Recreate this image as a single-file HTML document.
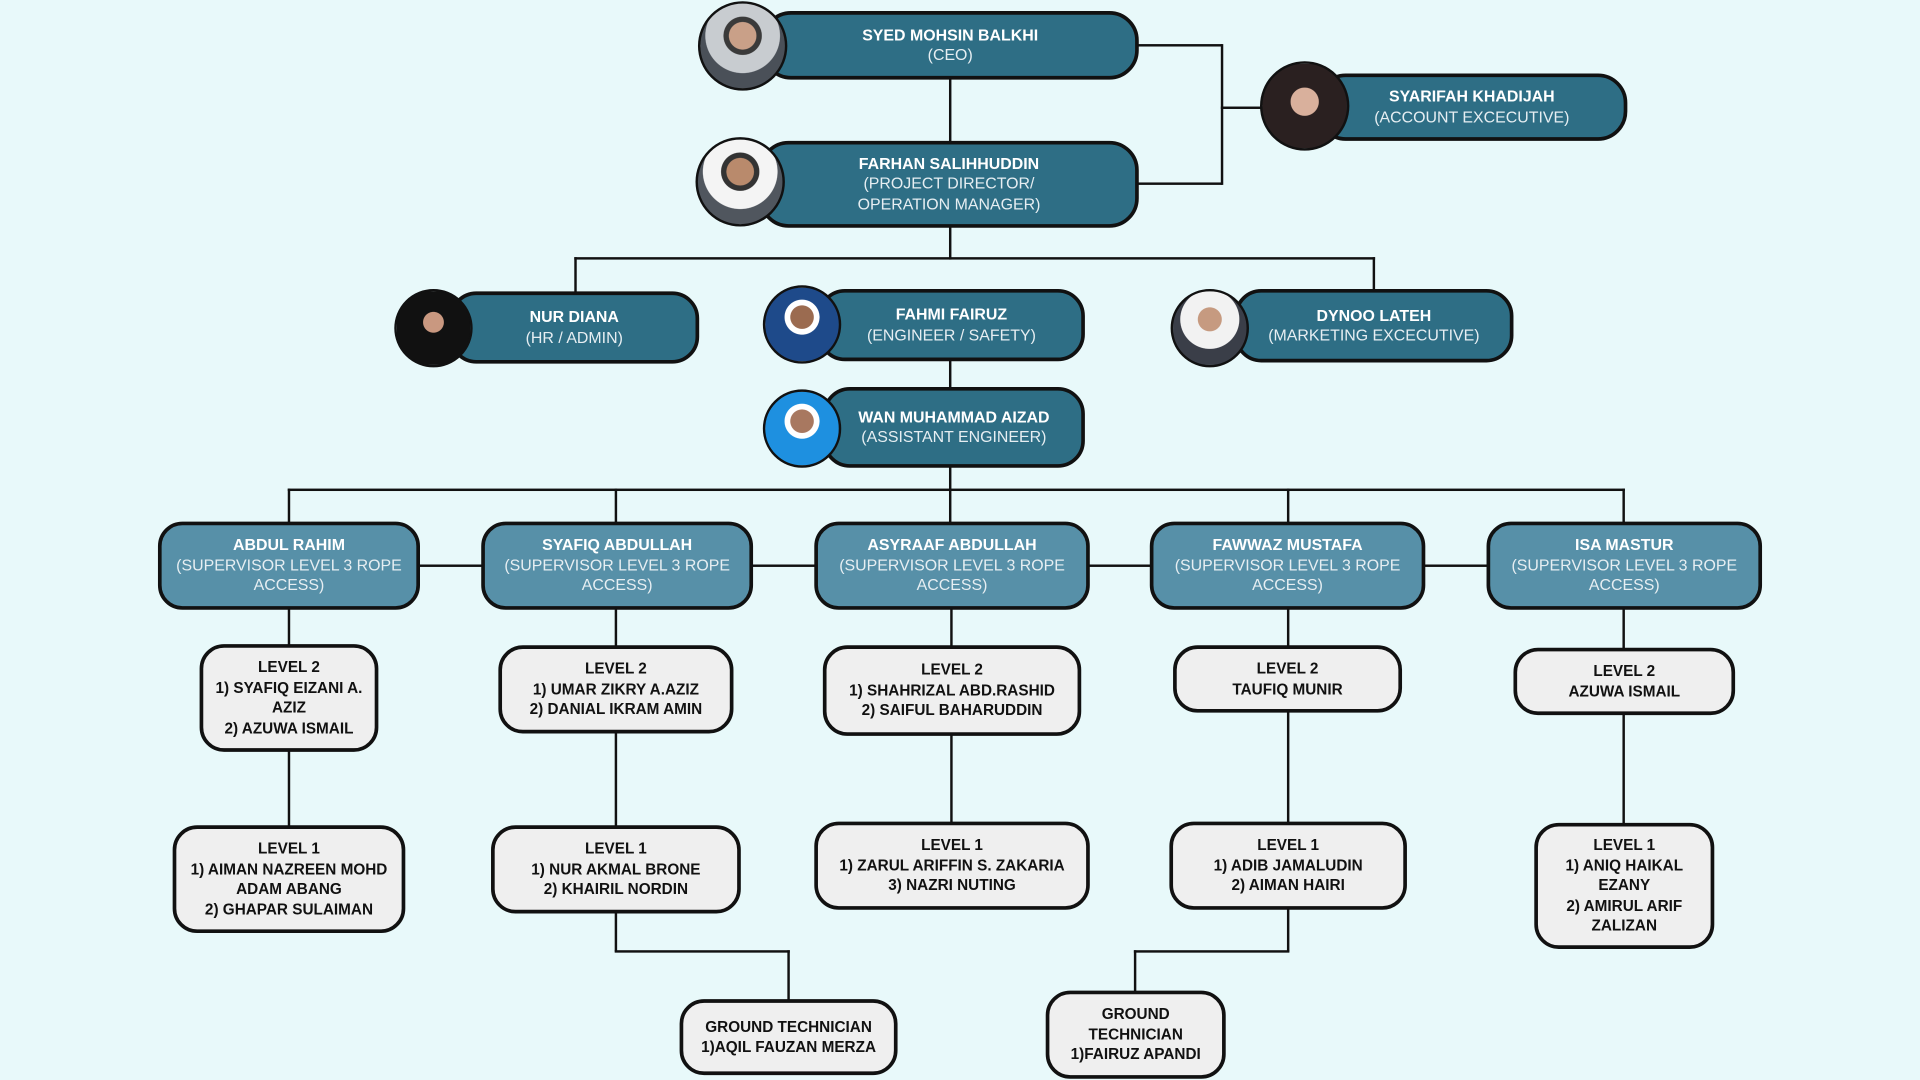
<!DOCTYPE html>
<html><head><meta charset="utf-8"><style>
html,body{margin:0;padding:0;background:#e8f9fa;overflow:hidden}
#s{position:absolute;left:0;top:0;width:1568px;height:882px;transform:scale(1.22449);transform-origin:0 0;font-family:"Liberation Sans",sans-serif}
.b{position:absolute;box-sizing:border-box;border:3px solid #111;border-radius:20px;display:flex;flex-direction:column;justify-content:center;align-items:center;text-align:center;font-size:13px;line-height:16.5px}
.d{background:#2e6e85;color:#fff}
.s{background:#5790a8;color:#fff}
.l{background:#efefef;color:#111;font-weight:bold;font-size:12.5px}
.d b,.s b{font-weight:bold}
.d span,.s span{color:#e6eef2;font-weight:normal}
.p{position:absolute;box-sizing:border-box;border:2px solid #111;border-radius:50%;background:radial-gradient(circle at 50% 38%,#c9a088 0 20%,#3a3a3a 21% 28%,#c8ccd0 29% 55%,#4a5058 56%)}
.ln{position:absolute;background:#111}
</style></head><body><div id="s">
<!-- lines -->
<div class="ln" style="left:775px;top:60px;width:2px;height:58px"></div>
<div class="ln" style="left:928px;top:36px;width:70px;height:2px"></div>
<div class="ln" style="left:997px;top:36px;width:2px;height:115px"></div>
<div class="ln" style="left:928px;top:149px;width:70px;height:2px"></div>
<div class="ln" style="left:997px;top:87px;width:35px;height:2px"></div>
<div class="ln" style="left:775px;top:184px;width:2px;height:28px"></div>
<div class="ln" style="left:469px;top:210px;width:654px;height:2px"></div>
<div class="ln" style="left:469px;top:210px;width:2px;height:30px"></div>
<div class="ln" style="left:1121px;top:210px;width:2px;height:28px"></div>
<div class="ln" style="left:775px;top:292px;width:2px;height:26px"></div>
<div class="ln" style="left:775px;top:379px;width:2px;height:50px"></div>
<div class="ln" style="left:235px;top:399px;width:1092px;height:2px"></div>
<div class="ln" style="left:235px;top:399px;width:2px;height:30px"></div>
<div class="ln" style="left:502px;top:399px;width:2px;height:30px"></div>
<div class="ln" style="left:1051px;top:399px;width:2px;height:30px"></div>
<div class="ln" style="left:1325px;top:399px;width:2px;height:30px"></div>
<div class="ln" style="left:340px;top:461px;width:1000px;height:2px"></div>
<div class="ln" style="left:235px;top:495px;width:2px;height:180px"></div>
<div class="ln" style="left:502px;top:495px;width:2px;height:282px"></div>
<div class="ln" style="left:776px;top:495px;width:2px;height:178px"></div>
<div class="ln" style="left:1051px;top:495px;width:2px;height:282px"></div>
<div class="ln" style="left:1325px;top:495px;width:2px;height:180px"></div>
<div class="ln" style="left:502px;top:776px;width:143px;height:2px"></div>
<div class="ln" style="left:643px;top:776px;width:2px;height:42px"></div>
<div class="ln" style="left:926px;top:776px;width:127px;height:2px"></div>
<div class="ln" style="left:926px;top:776px;width:2px;height:36px"></div>
<!-- top boxes -->
<div class="b d" style="left:622px;top:9px;width:308px;height:56px;border-radius:24px"><b>SYED MOHSIN BALKHI</b><span>(CEO)</span></div>
<div class="p" style="left:570px;top:1px;width:73px;height:73px"></div>
<div class="b d" style="left:620px;top:115px;width:310px;height:71px;border-radius:24px"><b>FARHAN SALIHHUDDIN</b><span>(PROJECT DIRECTOR/</span><span>OPERATION MANAGER)</span></div>
<div class="p" style="left:568px;top:112px;width:73px;height:73px;background:radial-gradient(circle at 50% 38%,#b98a6c 0 20%,#333 21% 28%,#f4f4f4 29% 55%,#50565e 56%)"></div>
<div class="b d" style="left:1075px;top:60px;width:254px;height:55px;border-radius:24px"><b>SYARIFAH KHADIJAH</b><span>(ACCOUNT EXCECUTIVE)</span></div>
<div class="p" style="left:1029px;top:50px;width:73px;height:73px;background:radial-gradient(circle at 50% 45%,#d9b09c 0 22%,#2a2020 23%)"></div>
<div class="b d" style="left:367px;top:238px;width:204px;height:59px;border-radius:22px"><b>NUR DIANA</b><span>(HR / ADMIN)</span></div>
<div class="p" style="left:322px;top:236px;width:64px;height:64px;background:radial-gradient(circle at 50% 42%,#c99880 0 18%,#111 19%)"></div>
<div class="b d" style="left:668px;top:236px;width:218px;height:59px;border-radius:22px"><b>FAHMI FAIRUZ</b><span>(ENGINEER / SAFETY)</span></div>
<div class="p" style="left:623px;top:233px;width:64px;height:64px;background:radial-gradient(circle at 50% 40%,#9b6b50 0 20%,#fff 21% 30%,#1e4a8a 31%)"></div>
<div class="b d" style="left:1008px;top:236px;width:228px;height:60px;border-radius:22px"><b>DYNOO LATEH</b><span>(MARKETING EXCECUTIVE)</span></div>
<div class="p" style="left:956px;top:236px;width:64px;height:64px;background:radial-gradient(circle at 50% 38%,#c69a80 0 20%,#f2f2f2 21% 50%,#3a3e48 51%)"></div>
<div class="b d" style="left:672px;top:316px;width:214px;height:66px;border-radius:22px"><b>WAN MUHAMMAD AIZAD</b><span>(ASSISTANT ENGINEER)</span></div>
<div class="p" style="left:623px;top:318px;width:64px;height:64px;background:radial-gradient(circle at 50% 40%,#a87860 0 20%,#fff 21% 30%,#1e90e0 31%)"></div>
<!-- supervisors -->
<div class="b s" style="left:129px;top:426px;width:214px;height:72px"><b>ABDUL RAHIM</b><span>(SUPERVISOR LEVEL 3 ROPE</span><span>ACCESS)</span></div>
<div class="b s" style="left:393px;top:426px;width:222px;height:72px"><b>SYAFIQ ABDULLAH</b><span>(SUPERVISOR LEVEL 3 ROPE</span><span>ACCESS)</span></div>
<div class="b s" style="left:665px;top:426px;width:225px;height:72px"><b>ASYRAAF ABDULLAH</b><span>(SUPERVISOR LEVEL 3 ROPE</span><span>ACCESS)</span></div>
<div class="b s" style="left:939px;top:426px;width:225px;height:72px"><b>FAWWAZ MUSTAFA</b><span>(SUPERVISOR LEVEL 3 ROPE</span><span>ACCESS)</span></div>
<div class="b s" style="left:1214px;top:426px;width:225px;height:72px"><b>ISA MASTUR</b><span>(SUPERVISOR LEVEL 3 ROPE</span><span>ACCESS)</span></div>
<!-- level 2 -->
<div class="b l" style="left:163px;top:526px;width:146px;height:88px">LEVEL 2<br>1) SYAFIQ EIZANI A.<br>AZIZ<br>2) AZUWA ISMAIL</div>
<div class="b l" style="left:407px;top:527px;width:192px;height:72px">LEVEL 2<br>1) UMAR ZIKRY A.AZIZ<br>2) DANIAL IKRAM AMIN</div>
<div class="b l" style="left:672px;top:527px;width:211px;height:74px">LEVEL 2<br>1) SHAHRIZAL ABD.RASHID<br>2) SAIFUL BAHARUDDIN</div>
<div class="b l" style="left:958px;top:527px;width:187px;height:55px">LEVEL 2<br>TAUFIQ MUNIR</div>
<div class="b l" style="left:1236px;top:529px;width:181px;height:55px">LEVEL 2<br>AZUWA ISMAIL</div>
<!-- level 1 -->
<div class="b l" style="left:141px;top:674px;width:190px;height:88px">LEVEL 1<br>1) AIMAN NAZREEN MOHD<br>ADAM ABANG<br>2) GHAPAR SULAIMAN</div>
<div class="b l" style="left:401px;top:674px;width:204px;height:72px">LEVEL 1<br>1) NUR AKMAL BRONE<br>2) KHAIRIL NORDIN</div>
<div class="b l" style="left:665px;top:671px;width:225px;height:72px">LEVEL 1<br>1) ZARUL ARIFFIN S. ZAKARIA<br>3) NAZRI NUTING</div>
<div class="b l" style="left:955px;top:671px;width:194px;height:72px">LEVEL 1<br>1) ADIB JAMALUDIN<br>2) AIMAN HAIRI</div>
<div class="b l" style="left:1253px;top:672px;width:147px;height:103px">LEVEL 1<br>1) ANIQ HAIKAL<br>EZANY<br>2) AMIRUL ARIF<br>ZALIZAN</div>
<!-- ground -->
<div class="b l" style="left:555px;top:816px;width:178px;height:62px">GROUND TECHNICIAN<br>1)AQIL FAUZAN MERZA</div>
<div class="b l" style="left:854px;top:809px;width:147px;height:72px">GROUND<br>TECHNICIAN<br>1)FAIRUZ APANDI</div>
</div></body></html>
